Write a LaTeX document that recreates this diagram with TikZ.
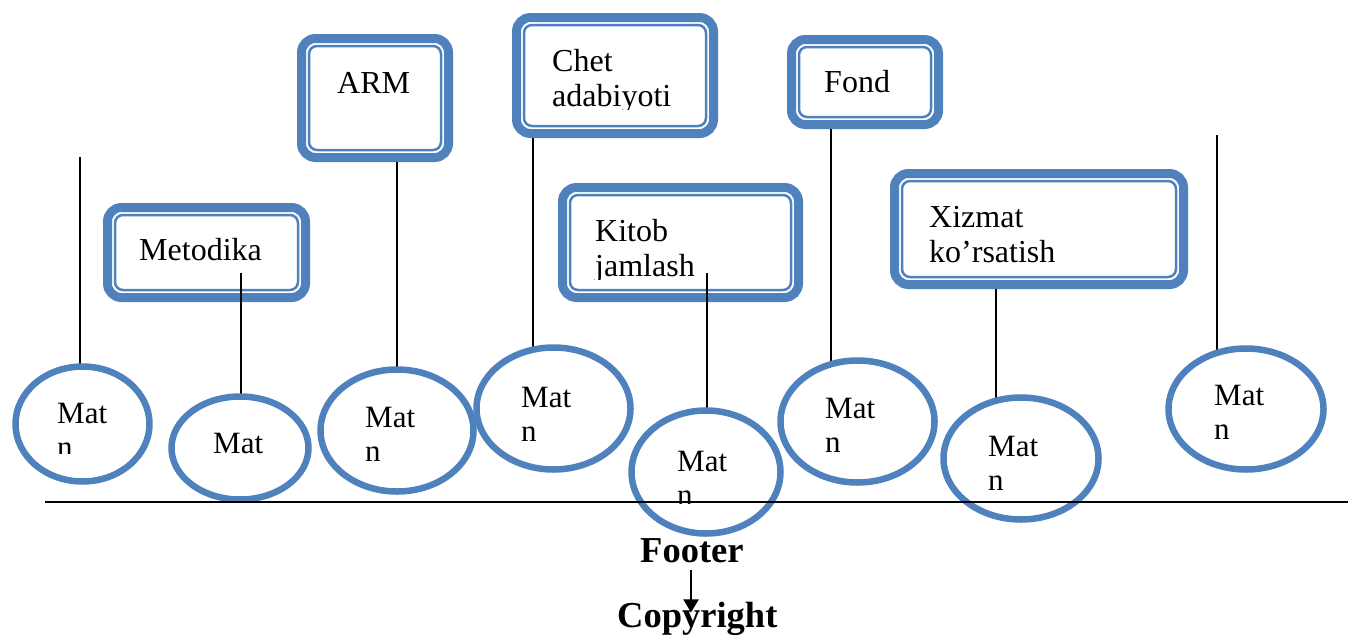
\documentclass[tikz,border=0pt]{standalone}
\usepackage{fontspec}
\setmainfont{Liberation Serif}
\usetikzlibrary{shapes.geometric,arrows.meta}
\definecolor{ovalblue}{HTML}{4F81BD}
\newcommand\twolines[1]{\begin{tabular}[t]{@{}l@{}}#1\end{tabular}}
\pgfdeclarelayer{front}
\pgfsetlayers{main,front}

\begin{document}
\begin{tikzpicture}[x=1pt,y=-1pt,
  frame/.style={draw=ovalblue, line width=9pt, fill=white, rounded corners=14pt,
    inner sep=0pt, outer sep=4.5pt, anchor=north west,
    path picture={\draw[ovalblue, line width=2.5pt, rounded corners=8pt]
      ([shift={(7.5pt,7.5pt)}]path picture bounding box.south west) rectangle
      ([shift={(-7.5pt,-7.5pt)}]path picture bounding box.north east);}},
  oval/.style={ellipse, draw=ovalblue, line width=6.5pt, fill=white, inner sep=0pt},
  boxtxt/.style={font=\fontsize{32}{35.5}\selectfont, inner sep=0pt, anchor=base west},
  ovaltxt/.style={font=\fontsize{31}{34}\selectfont, inner sep=0pt, anchor=base west},
  foot/.style={font=\fontsize{36.5}{40}\selectfont\bfseries, inner sep=0pt, anchor=base west},
  wire/.style={line width=2pt, black}]

\useasboundingbox (0,0) rectangle (1348,635);

% framed boxes
\node[frame, minimum width=198pt, minimum height=90pt]  (b1) at (103,203) {};
\node[frame, minimum width=147pt, minimum height=119pt] (b2) at (297,34) {};
\node[frame, minimum width=197pt, minimum height=116pt] (b3) at (512,13) {};
\node[frame, minimum width=236pt, minimum height=110pt] (b4) at (558,183) {};
\node[frame, minimum width=147pt, minimum height=85pt]  (b5) at (787,35) {};
\node[frame, minimum width=289pt, minimum height=111pt] (b6) at (890,169) {};

\node[boxtxt] (t1) at (139,260) {Metodika};
\node[boxtxt] (t2) at (337,93) {ARM};
\begin{scope}
  \clip (540,30) rectangle (710,109);
  \node[boxtxt] (t3) at (552,71) {\twolines{Chet\\adabiyoti}};
\end{scope}
\begin{scope}
  \clip (580,200) rectangle (795,279);
  \node[boxtxt] (t4) at (595,241) {\twolines{Kitob\\jamlash}};
\end{scope}
\node[boxtxt] (t5) at (824,92) {Fond};
\begin{scope}
  \clip (910,185) rectangle (1180,263);
  \node[boxtxt] (t6) at (929,227) {\twolines{Xizmat\\ko’rsatish}};
\end{scope}

\begin{pgfonlayer}{front}
  % ovals
  \node[oval, minimum width=134pt, minimum height=115pt] (e1) at (82.5,424) {};
  \node[oval, minimum width=137pt, minimum height=103pt] (e2) at (240,448) {};
  \node[oval, minimum width=153pt, minimum height=122pt] (e3) at (397,430.5) {};
  \node[oval, minimum width=154pt, minimum height=122pt] (e4) at (553.5,408.5) {};
  \node[oval, minimum width=149pt, minimum height=123pt] (e5) at (706,472) {};
  \node[oval, minimum width=154pt, minimum height=122pt] (e6) at (857.5,421.5) {};
  \node[oval, minimum width=155pt, minimum height=122pt] (e7) at (1021,458.5) {};
  \node[oval, minimum width=155pt, minimum height=121pt] (e8) at (1246,409) {};

  % oval captions, cut off at the bottom of their text area
  \begin{scope}\clip (50,380) rectangle (140,453);
    \node[ovaltxt] (e1t) at (57,423) {\twolines{Mat\\n}};\end{scope}
  \node[ovaltxt] (e2t) at (213,453) {Mat};
  \begin{scope}\clip (358,385) rectangle (450,462);
    \node[ovaltxt] (e3t) at (365,427) {\twolines{Mat\\n}};\end{scope}
  \begin{scope}\clip (514,365) rectangle (610,440);
    \node[ovaltxt] (e4t) at (521,407) {\twolines{Mat\\n}};\end{scope}
  \begin{scope}\clip (670,430) rectangle (765,503);
    \node[ovaltxt] (e5t) at (677,471) {\twolines{Mat\\n}};\end{scope}
  \begin{scope}\clip (818,376) rectangle (915,453);
    \node[ovaltxt] (e6t) at (825,418) {\twolines{Mat\\n}};\end{scope}
  \begin{scope}\clip (981,414) rectangle (1080,490);
    \node[ovaltxt] (e7t) at (988,456) {\twolines{Mat\\n}};\end{scope}
  \begin{scope}\clip (1207,363) rectangle (1305,446);
    \node[ovaltxt] (e8t) at (1214,405) {\twolines{Mat\\n}};\end{scope}

  % base line
  \coordinate (h1) at (45,502);
  \coordinate (h2) at (1348,502);
  \draw[wire] (h1) -- (h2);
\end{pgfonlayer}

% vertical connectors, running down under the ovals
\coordinate (c0) at (80,157);
\coordinate (c1) at (241,273);
\coordinate (c3) at (533,0);
\coordinate (c4) at (707,273);
\coordinate (c5) at (831,0);
\coordinate (c6) at (996,0);
\coordinate (c7) at (1217,135);
\draw[wire] (c0) -- (c0 |- e1.center);
\draw[wire] (c1) -- (c1 |- e2.center);
\draw[wire] (b2.south -| e3.center) -- (e3.center);
\draw[wire] (b3.south -| c3) -- (c3 |- e4.center);
\draw[wire] (c4) -- (c4 |- e5.center);
\draw[wire] (b5.south -| c5) -- (c5 |- e6.center);
\draw[wire] (b6.south -| c6) -- (c6 |- e7.center);
\draw[wire] (c7) -- (c7 |- e8.center);

% footer
\node[foot] (footer) at (640,562) {Footer};
\node[foot] (copy) at (617,627) {Copyright};
\coordinate (ax) at (691,0);
\draw[wire, -{Triangle[width=15pt,length=13pt]}]
  ([yshift=-8pt]footer.base -| ax) -- ([yshift=-11pt]copy.north -| ax);

\end{tikzpicture}
\end{document}
